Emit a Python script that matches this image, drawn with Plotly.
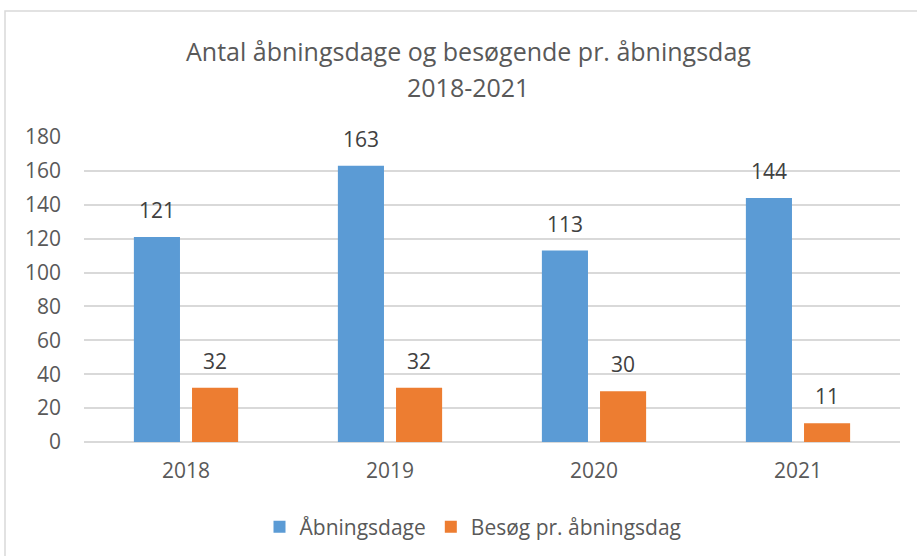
import plotly.graph_objects as go

years = ["2018", "2019", "2020", "2021"]
aabningsdage = [121, 163, 113, 144]
besoeg = [32, 32, 30, 11]
series_names = ["Åbningsdage", "Besøg pr. åbningsdag"]
colors = ["#5B9BD5", "#ED7D31"]
title_lines = ["Antal åbningsdage og besøgende pr. åbningsdag", "2018-2021"]
y_ticks = list(range(0, 181, 20))

FONT = "Open Sans"
GRAY = "#595959"
FS = 21

W, H = 917, 556
L, R, T, B = 84, 17, 137, 114
pw, ph = W - L - R, H - T - B


def px2paper_x(px):
    return (px - L) / pw


def px2paper_y(py):
    return (H - B - py) / ph


fig = go.Figure()
for name, vals, col in zip(series_names, [aabningsdage, besoeg], colors):
    fig.add_trace(go.Bar(x=years, y=vals, name=name, marker_color=col,
                         marker_line_width=0))

annotations = []
for vals, shift in zip([aabningsdage, besoeg], [-29, 29]):
    for i, v in enumerate(vals):
        annotations.append(dict(x=i, y=v, xref="x", yref="y", text=str(v),
                                showarrow=False, xshift=shift, yshift=27,
                                font=dict(family=FONT, size=FS, color="#404040")))
for line, ypx in zip(title_lines, [51, 87]):
    annotations.append(dict(x=px2paper_x(468), y=px2paper_y(ypx),
                            xref="paper", yref="paper", xanchor="center",
                            yanchor="middle", text=line, showarrow=False,
                            font=dict(family=FONT, size=25, color=GRAY)))

fig.update_layout(
    width=W, height=H,
    margin=dict(l=L, r=R, t=T, b=B, autoexpand=False),
    paper_bgcolor="white", plot_bgcolor="white",
    barmode="group", bargap=0.43, bargroupgap=0.207,
    font=dict(family=FONT, size=FS, color=GRAY),
    showlegend=True,
    legend=dict(orientation="h", x=px2paper_x(473), xanchor="center",
                y=px2paper_y(527), yanchor="middle",
                font=dict(family=FONT, size=FS, color=GRAY),
                traceorder="normal", itemwidth=30),
    annotations=annotations,
    shapes=[dict(type="rect", xref="paper", yref="paper",
                 x0=px2paper_x(5), x1=px2paper_x(925),
                 y0=px2paper_y(565), y1=px2paper_y(11),
                 line=dict(color="#D9D9D9", width=1.5), layer="below")],
)
fig.update_xaxes(type="category", range=[-0.5, 3.5], showgrid=False,
                 showline=False, ticks="", ticklabelstandoff=14,
                 tickfont=dict(family=FONT, size=FS, color=GRAY))
fig.update_yaxes(range=[0, 180], tickvals=y_ticks, showgrid=True,
                 gridcolor="#D9D9D9", gridwidth=1.5, zeroline=True,
                 zerolinecolor="#D9D9D9", zerolinewidth=1.5, showline=False,
                 ticks="", ticklabelstandoff=22,
                 tickfont=dict(family=FONT, size=FS, color=GRAY))

fig.write_html("out.html", config={"displayModeBar": False},
               post_script="document.body.style.margin='0';")
